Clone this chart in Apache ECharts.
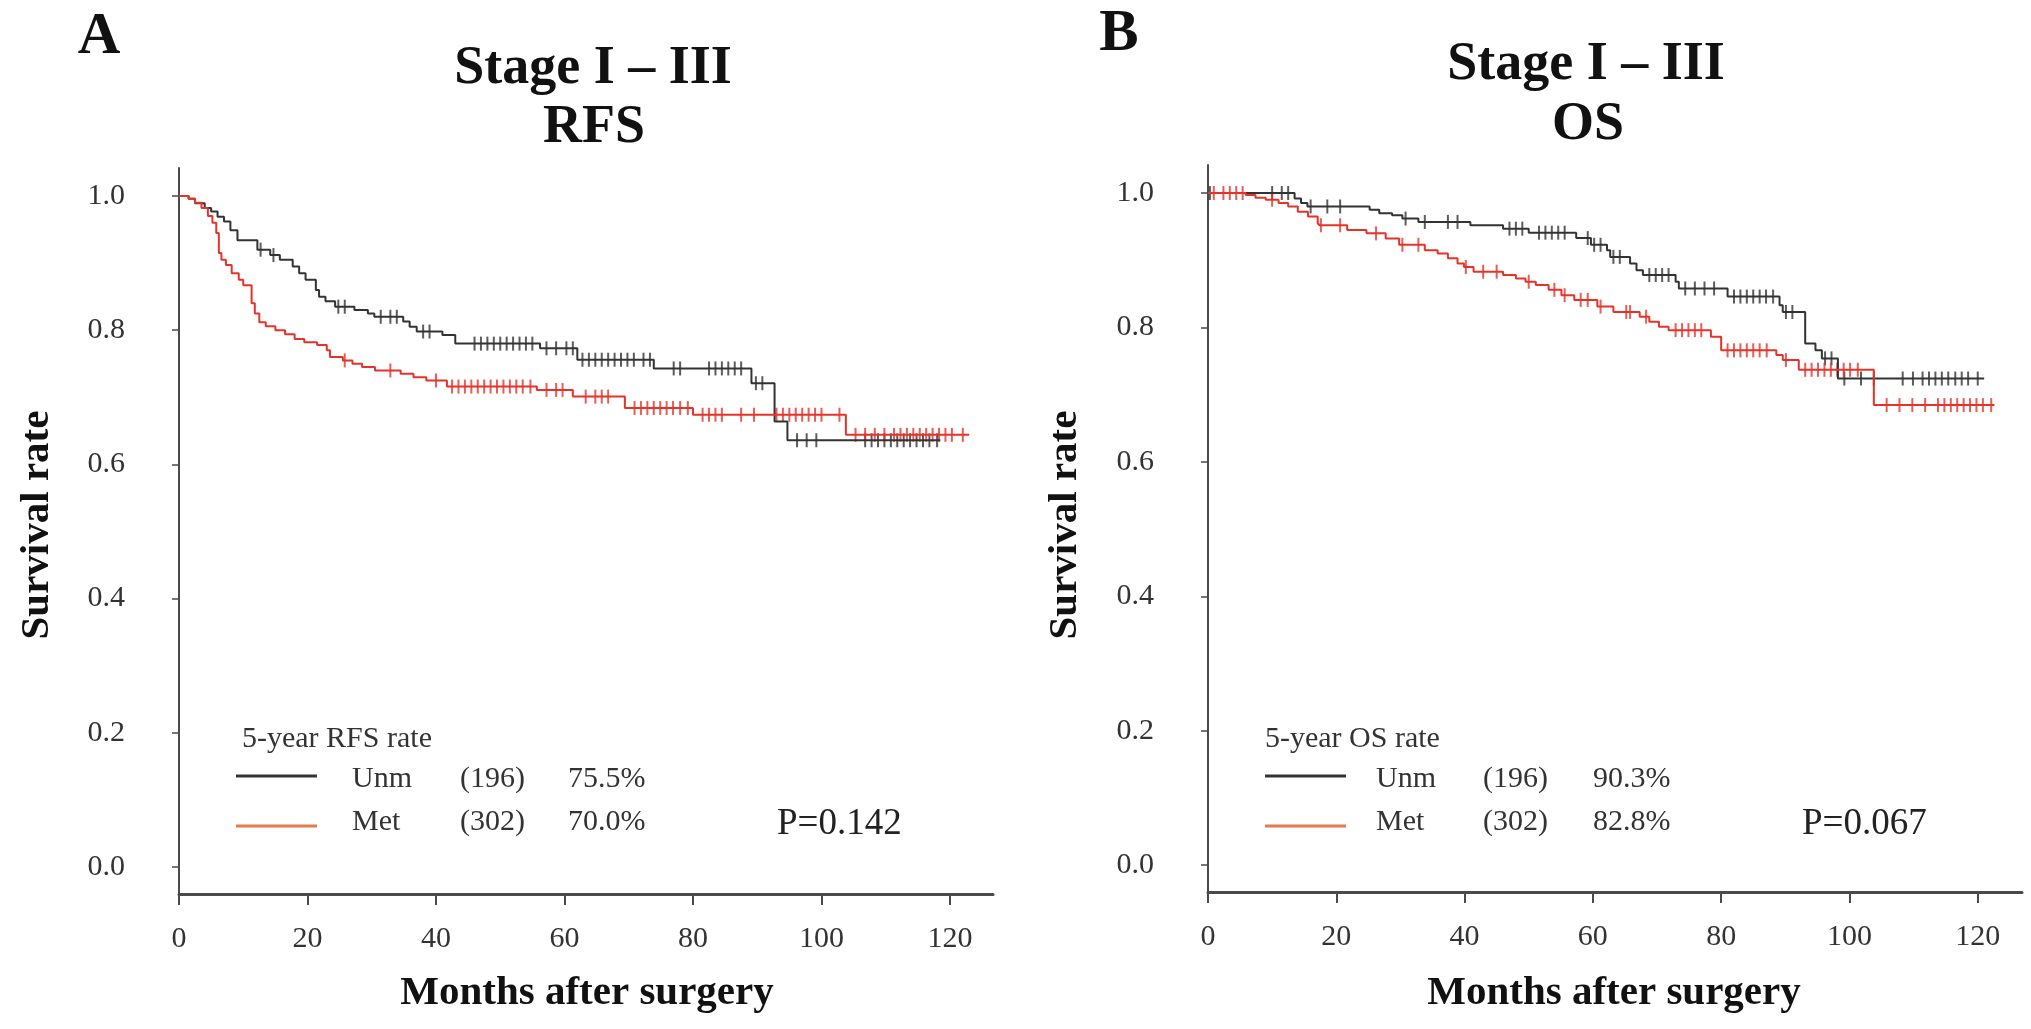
<!DOCTYPE html>
<html>
<head>
<meta charset="utf-8">
<script src="https://cdn.jsdelivr.net/npm/echarts@6/dist/echarts.min.js"></script>
<style>
html,body{margin:0;padding:0;background:#fff;}
#c{width:2031px;height:1029px;}
</style>
</head>
<body>
<div id="c"></div>
<script>
// ---------- DATA ----------
const xTicks = [0, 20, 40, 60, 80, 100, 120];
const yTicks = [0, 0.2, 0.4, 0.6, 0.8, 1.0];

// Panel A: RFS
const rfsUnmTimes = [0, 1.5, 2.5, 4, 5, 6, 7, 8, 9.1, 12.2, 14.2, 15.7, 17.7, 18.7, 19.7, 21.3, 21.8, 22.8, 24.3, 27.3, 29.4, 30.4, 34.9, 35.9, 37, 41, 43, 56.2, 62, 73.9, 89.1, 92.7, 94.7];
const rfsUnmSurv  = [1, 0.996, 0.989, 0.982, 0.977, 0.969, 0.962, 0.949, 0.934, 0.920, 0.912, 0.905, 0.895, 0.885, 0.875, 0.860, 0.850, 0.843, 0.835, 0.830, 0.825, 0.820, 0.813, 0.805, 0.798, 0.793, 0.780, 0.773, 0.756, 0.743, 0.721, 0.664, 0.636];
const rfsUnmCensor = [12.7, 14.7, 24.8, 25.8, 31.4, 32.9, 33.9, 38, 39, 46, 47, 48, 49, 50, 51, 52, 53, 54, 55, 57.2, 58.7, 60.3, 61.3, 62.8, 63.8, 64.8, 65.8, 66.8, 67.8, 68.8, 69.8, 70.8, 72.3, 73.3, 77, 78, 82.5, 83.5, 84.5, 85.5, 86.5, 87.5, 89.8, 90.8, 96.2, 97.7, 99.2, 106.8, 107.8, 108.8, 109.8, 110.8, 111.8, 112.8, 113.8, 114.8, 115.8, 116.8, 118];
const rfsUnmEnd = 118.5;

const rfsMetTimes = [0, 1.5, 2.5, 3.5, 4.5, 5.2, 5.8, 6.2, 6.6, 7.3, 8.2, 9.3, 10.0, 11.3, 11.8, 12.5, 13.5, 15, 16.5, 18, 19.5, 21.5, 23, 23.5, 25.5, 27, 28.5, 30.5, 34.5, 36.5, 38.5, 41.7, 55.7, 61.3, 69.4, 80, 103.8];
const rfsMetSurv  = [1, 0.996, 0.99, 0.982, 0.97, 0.96, 0.945, 0.915, 0.905, 0.897, 0.885, 0.875, 0.867, 0.84, 0.825, 0.812, 0.806, 0.80, 0.794, 0.787, 0.782, 0.778, 0.77, 0.76, 0.755, 0.75, 0.745, 0.74, 0.735, 0.73, 0.725, 0.716, 0.711, 0.701, 0.684, 0.674, 0.644];
const rfsMetCensor = [25.8, 32.9, 40, 42.5, 43.5, 44.5, 45.5, 46.5, 47.5, 48.5, 49.5, 50.5, 51.5, 52.5, 53.5, 54.7, 57.2, 58.7, 59.7, 63.3, 64.8, 65.8, 66.8, 70.9, 71.9, 72.9, 73.9, 74.9, 75.9, 76.9, 78, 79.2, 81.5, 82.5, 83.5, 84.5, 87.5, 89.5, 93, 94, 95, 96, 97, 98, 99, 100, 102.8, 105.3, 106.8, 108.3, 109.8, 111.3, 112.3, 113.3, 114.3, 115.3, 116.3, 117.3, 118.3, 119.3, 120.3, 122];
const rfsMetEnd = 123;

// Panel B: OS
const osUnmTimes = [0, 13.5, 14.5, 15.5, 25.2, 26.7, 28.7, 30.3, 32.8, 40.9, 46, 50, 57.4, 59.7, 62.2, 62.7, 65.8, 66.8, 67.8, 72.9, 73.4, 81, 89.1, 89.6, 93.1, 94.7, 95.7, 98.2];
const osUnmSurv  = [1, 0.992, 0.985, 0.98, 0.975, 0.970, 0.967, 0.962, 0.957, 0.952, 0.947, 0.941, 0.933, 0.923, 0.915, 0.905, 0.895, 0.885, 0.878, 0.868, 0.858, 0.846, 0.833, 0.823, 0.776, 0.766, 0.754, 0.724];
const osUnmCensor = [0.3, 10, 11.5, 12.5, 16, 18.6, 20.6, 30.8, 33.8, 37.4, 38.9, 47, 48, 49, 51.6, 52.6, 53.6, 54.6, 55.6, 59.2, 60.2, 61.2, 63.2, 64.2, 68.8, 69.8, 70.8, 71.8, 74.4, 75.9, 77.4, 78.9, 82, 83, 84, 85, 86, 87, 88.1, 90.1, 91.1, 96.2, 97.2, 99.2, 101.8, 103.8, 108.3, 109.9, 111.4, 112.4, 113.4, 114.4, 115.4, 116.5, 117.5, 118.5, 120];
const osUnmEnd = 121;

const osMetTimes = [0, 5.9, 7.4, 9, 11, 12.5, 14, 15.6, 17.1, 17.4, 21.7, 24.7, 27.7, 29.8, 33.8, 35.8, 37.4, 38.9, 39.9, 41.4, 46, 48, 49.5, 51.1, 53.1, 55.1, 57.1, 60.7, 63.2, 67.3, 68.8, 70.3, 71.8, 78.4, 80, 88.6, 89.6, 92.1, 103.8];
const osMetSurv  = [1, 0.997, 0.993, 0.99, 0.985, 0.98, 0.972, 0.965, 0.955, 0.952, 0.945, 0.94, 0.9325, 0.923, 0.915, 0.910, 0.903, 0.895, 0.890, 0.883, 0.878, 0.873, 0.868, 0.863, 0.856, 0.848, 0.841, 0.831, 0.823, 0.816, 0.8085, 0.801, 0.796, 0.786, 0.766, 0.759, 0.7515, 0.737, 0.6845];
const osMetCensor = [0.9, 2.4, 3.4, 4.4, 5.4, 10, 17.6, 20.6, 26.2, 30.3, 32.8, 40.2, 42.9, 45, 50, 54, 55.6, 58.1, 59.2, 61.2, 65.2, 65.8, 68.3, 72.9, 73.9, 74.9, 75.9, 76.9, 81, 82, 83, 84, 85, 86, 87.1, 90.1, 93.1, 94.1, 95.1, 96.1, 97.1, 98.1, 99.1, 100.1, 101.3, 105.8, 107.8, 109.8, 111.8, 113.8, 114.8, 115.8, 116.8, 117.8, 118.8, 119.8, 120.8, 122.1];
const osMetEnd = 122.6;

// texts
const panelLetters = ['A', 'B'];
const titleLine1 = 'Stage I \u2013 III';
const titleLine2 = ['RFS', 'OS'];
const legendHeaders = ['5-year RFS rate', '5-year OS rate'];
const groupNames = ['Unm', 'Met'];
const groupNs = ['(196)', '(302)'];
const fiveYearRates = [['75.5%', '70.0%'], ['90.3%', '82.8%']];
const pValues = ['P=0.142', 'P=0.067'];
const xName = 'Months after surgery';
const yName = 'Survival rate';

// ---------- HELPERS ----------
function km(times, surv, end) {
  const d = times.map((t, i) => [t, surv[i]]);
  d.push([end, surv[surv.length - 1]]);
  return d;
}
function valAt(times, surv, t) {
  let v = surv[0];
  for (let i = 0; i < times.length; i++) { if (times[i] <= t) v = surv[i]; }
  return v;
}
function cens(times, surv, c) { return c.map(t => [t, valAt(times, surv, t)]); }

const BLACK = '#333333';
const RED = '#e6332a';
const LEG_RED = '#e8784e';
const SERIF = "'Liberation Serif','Times New Roman',serif";
const AXIS = '#4a4a4a';

const grids = [
  { left: 179, top: 168, width: 814, height: 726 },
  { left: 1208, top: 165, width: 814, height: 727 }
];
const yMin = [-0.0402, -0.0399];
const yMax = [1.0417, 1.0417];
const xMax = [126.7, 126.9];

function xAxis(i) {
  return {
    type: 'value', gridIndex: i, min: 0, max: xMax[i],
    axisLine: { show: true, onZero: false, lineStyle: { color: AXIS, width: 3 } },
    axisTick: { show: true, length: 11, customValues: xTicks, lineStyle: { color: AXIS, width: 2 } },
    axisLabel: { customValues: xTicks, margin: 30, fontFamily: SERIF, fontSize: 30, color: '#333' },
    splitLine: { show: false }
  };
}
function yAxis(i) {
  return {
    type: 'value', gridIndex: i, min: yMin[i], max: yMax[i],
    axisLine: { show: true, onZero: false, lineStyle: { color: AXIS, width: 2 } },
    axisTick: { show: true, length: 7, customValues: yTicks, lineStyle: { color: AXIS, width: 1.5 } },
    axisLabel: { customValues: yTicks, margin: 54, fontFamily: SERIF, fontSize: 30, color: '#333',
      formatter: v => v.toFixed(1) },
    splitLine: { show: false }
  };
}
function lineSeries(i, data, color) {
  return { type: 'line', xAxisIndex: i, yAxisIndex: i, data: data, step: 'end', showSymbol: false,
    symbol: 'none', lineStyle: { color: color, width: 2 }, itemStyle: { color: color }, animation: false, silent: true };
}
function censSeries(i, data, color) {
  return { type: 'scatter', xAxisIndex: i, yAxisIndex: i, data: data, symbol: 'rect', symbolSize: [2, 14],
    itemStyle: { color: color }, animation: false, silent: true };
}

function txt(x, y, text, size, opts) {
  opts = opts || {};
  return { type: 'text', x: x, y: y, rotation: opts.rot || 0, silent: true,
    style: { text: text, font: (opts.bold ? 'bold ' : '') + size + 'px ' + SERIF,
      fill: opts.color || '#111', align: opts.align || 'left', textAlign: opts.align || 'left',
      verticalAlign: 'middle', textVerticalAlign: 'middle' } };
}
function seg(x1, x2, y, color) {
  return { type: 'line', silent: true, shape: { x1: x1, y1: y, x2: x2, y2: y }, style: { stroke: color, lineWidth: 3 } };
}

const graphics = [];
// panel letters & titles
graphics.push(txt(99, 38, panelLetters[0], 59, { bold: true, align: 'center' }));
graphics.push(txt(1119, 35, panelLetters[1], 59, { bold: true, align: 'center' }));
graphics.push(txt(593, 69, titleLine1, 54, { bold: true, align: 'center' }));
graphics.push(txt(594, 128, titleLine2[0], 54, { bold: true, align: 'center' }));
graphics.push(txt(1586, 65, titleLine1, 54, { bold: true, align: 'center' }));
graphics.push(txt(1588, 125, titleLine2[1], 54, { bold: true, align: 'center' }));
// axis names
graphics.push(txt(37, 525, yName, 41, { bold: true, align: 'center', rot: Math.PI / 2 }));
graphics.push(txt(1065, 525, yName, 41, { bold: true, align: 'center', rot: Math.PI / 2 }));
graphics.push(txt(587, 993, xName, 41, { bold: true, align: 'center' }));
graphics.push(txt(1614, 993, xName, 41, { bold: true, align: 'center' }));
// legends
const legX = [
  { head: 242, line: 236, name: 352, n: 460, rate: 568, p: 777 },
  { head: 1265, line: 1265, name: 1376, n: 1483, rate: 1593, p: 1802 }
];
for (let i = 0; i < 2; i++) {
  const L = legX[i];
  graphics.push(txt(L.head, 739, legendHeaders[i], 30, { color: '#333' }));
  graphics.push(seg(L.line, L.line + 81, 776, BLACK));
  graphics.push(seg(L.line, L.line + 81, 826, LEG_RED));
  graphics.push(txt(L.name, 779, groupNames[0], 30, { color: '#333' }));
  graphics.push(txt(L.n, 779, groupNs[0], 30, { color: '#333' }));
  graphics.push(txt(L.rate, 779, fiveYearRates[i][0], 30, { color: '#333' }));
  graphics.push(txt(L.name, 822, groupNames[1], 30, { color: '#333' }));
  graphics.push(txt(L.n, 822, groupNs[1], 30, { color: '#333' }));
  graphics.push(txt(L.rate, 822, fiveYearRates[i][1], 30, { color: '#333' }));
  graphics.push(txt(L.p, 824, pValues[i], 37, { color: '#222' }));
}

const chart = echarts.init(document.getElementById('c'), null, { renderer: 'canvas' });
chart.setOption({
  backgroundColor: '#ffffff',
  animation: false,
  grid: grids,
  xAxis: [xAxis(0), xAxis(1)],
  yAxis: [yAxis(0), yAxis(1)],
  series: [
    lineSeries(0, km(rfsUnmTimes, rfsUnmSurv, rfsUnmEnd), BLACK),
    lineSeries(0, km(rfsMetTimes, rfsMetSurv, rfsMetEnd), RED),
    censSeries(0, cens(rfsUnmTimes, rfsUnmSurv, rfsUnmCensor), BLACK),
    censSeries(0, cens(rfsMetTimes, rfsMetSurv, rfsMetCensor), RED),
    lineSeries(1, km(osUnmTimes, osUnmSurv, osUnmEnd), BLACK),
    lineSeries(1, km(osMetTimes, osMetSurv, osMetEnd), RED),
    censSeries(1, cens(osUnmTimes, osUnmSurv, osUnmCensor), BLACK),
    censSeries(1, cens(osMetTimes, osMetSurv, osMetCensor), RED)
  ],
  graphic: graphics
});
</script>
</body>
</html>
